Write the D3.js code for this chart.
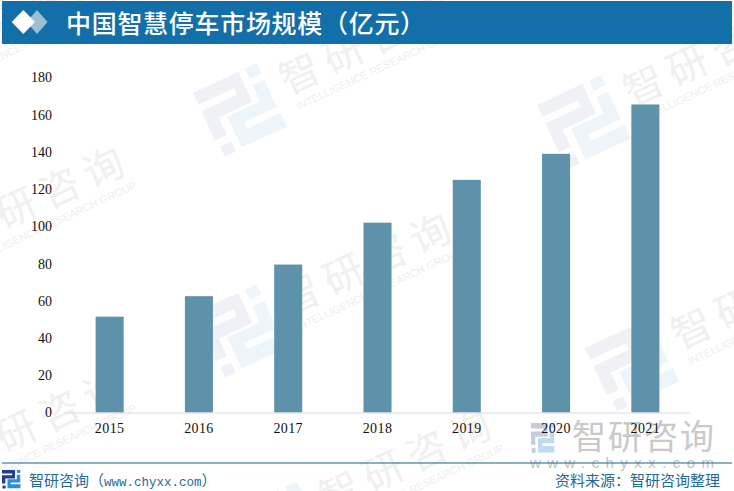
<!DOCTYPE html>
<html><head><meta charset="utf-8">
<script src="https://cdnjs.cloudflare.com/ajax/libs/d3/7.8.5/d3.min.js"></script>
<style>html,body{margin:0;padding:0;background:#fff}svg{display:block}</style></head>
<body><div id="c"></div>
<script>
const years = ["2015","2016","2017","2018","2019","2020","2021"];
const values = [51.5,62.5,79.5,102,125,139,165.5];
const yTicks = [0,20,40,60,80,100,120,140,160,180];
const titleText = "中国智慧停车市场规模（亿元）";
const brandName = "智研咨询";
const brandUrl = "www.chyxx.com";
const groupName = "INTELLIGENCE RESEARCH GROUP";
const footerRight = "资料来源：智研咨询整理";

const W=734,H=491;
const serif='"Liberation Serif","Noto Sans CJK SC",serif';
const cjk='"Noto Sans CJK SC","Noto Sans",sans-serif';
const sans='"Liberation Sans",sans-serif';
const svg=d3.select("#c").append("svg").attr("width",W).attr("height",H);

const x=d3.scaleBand().domain(years).range([65,690]).paddingInner(0.686).paddingOuter(0.343);
const y=d3.scaleLinear().domain([0,180]).range([412.5,77.5]);

function logo(g,a,b){
  g.append("path").attr("fill",a).attr("d","M0,0H50V33H13V52H0V20H39V13H0Z");
  g.append("rect").attr("x",2).attr("y",60).attr("width",12).attr("height",11).attr("fill",a);
  g.append("rect").attr("x",57.5).attr("y",0).attr("width",13).attr("height",11).attr("fill",b);
  g.append("path").attr("fill",b).attr("d","M57,18H70V48H34V55H71V70H21V36H57Z");
}
function wm(px,py){
  const g=svg.append("g").attr("transform",`translate(${px},${py}) rotate(-25)`);
  logo(g,"#eff1f6","#edf5fb");
  g.append("text").attr("x",85).attr("y",42).attr("font-family",cjk).attr("font-size",40)
    .attr("letter-spacing",8).attr("fill","#f0f0f0").text(brandName);
  g.append("text").attr("x",88).attr("y",60).attr("font-family",sans).attr("font-size",10.8)
    .attr("fill","#eeeeee").text(groupName);
}
[[-153,66],[193,93],[537,105],[-134,248],[193,314],[585,348],[-134,471],[233,511]].forEach(p=>wm(p[0],p[1]));

// header
svg.append("rect").attr("x",2).attr("y",1).attr("width",730).attr("height",43).attr("fill","#136fa9");
svg.append("path").attr("fill","#9dbed4").attr("d","M37,10L47.5,22L37,34L26.5,22Z");
svg.append("path").attr("fill","#fff").attr("d","M23.3,10L35,22L23.3,34L11.7,22Z");
svg.append("text").attr("x",66).attr("y",33).attr("font-family",cjk).attr("font-weight",500)
  .attr("font-size",25).attr("letter-spacing",0.7).attr("fill","#fff").text(titleText);

// bottom-right brand mark
const br=svg.append("g");
logo(br.append("g").attr("transform","translate(531,423) scale(0.33,0.42)"),"#c6ccd8","#bcdcf2");
br.append("text").attr("x",572).attr("y",449).attr("font-family",cjk).attr("font-size",34)
  .attr("letter-spacing",2).attr("fill","#c9c9c9").text(brandName);
br.append("text").attr("x",530).attr("y",468).attr("font-family",sans).attr("font-size",15)
  .attr("textLength",184).attr("lengthAdjust","spacing").attr("fill","#c2c2c2").text(brandUrl);

// bars
svg.append("g").selectAll("rect").data(years).join("rect")
  .attr("x",d=>x(d)).attr("width",x.bandwidth())
  .attr("y",(d,i)=>y(values[i])).attr("height",(d,i)=>y(0)-y(values[i]))
  .attr("fill","#5e92aa");

// axes
const ay=svg.append("g").attr("transform","translate(65,0)")
  .call(d3.axisLeft(y).tickValues(yTicks).tickSize(0).tickPadding(13));
ay.select(".domain").remove();
ay.selectAll("text").attr("font-family",serif).attr("font-size",14).attr("fill","#111");
const ax=svg.append("g").attr("transform","translate(0,412.5)")
  .call(d3.axisBottom(x).tickSize(0).tickPadding(10.5));
ax.select(".domain").attr("stroke","#d9d9d9").attr("stroke-width",1);
ax.selectAll("text").attr("font-family",serif).attr("font-size",14).attr("letter-spacing",0.4).attr("fill","#111");

// footer
svg.append("line").attr("x1",2).attr("x2",732).attr("y1",463).attr("y2",463).attr("stroke","#1b6085").attr("stroke-width",1);
logo(svg.append("g").attr("transform","translate(2,470) scale(0.26)"),"#1d3f8f","#2a8fd6");
const fl=svg.append("text").attr("x",29).attr("y",486).attr("fill","#1f6a95").attr("font-family",cjk).attr("font-size",15);
fl.append("tspan").text(brandName+"（");
fl.append("tspan").attr("font-family",'"Liberation Mono",monospace').attr("font-size",12.5).text(brandUrl);
fl.append("tspan").text("）");
svg.append("text").attr("x",720).attr("y",486).attr("text-anchor","end").attr("font-family",cjk).attr("font-size",15).attr("fill","#1f6a95").text(footerRight);
</script></body></html>
